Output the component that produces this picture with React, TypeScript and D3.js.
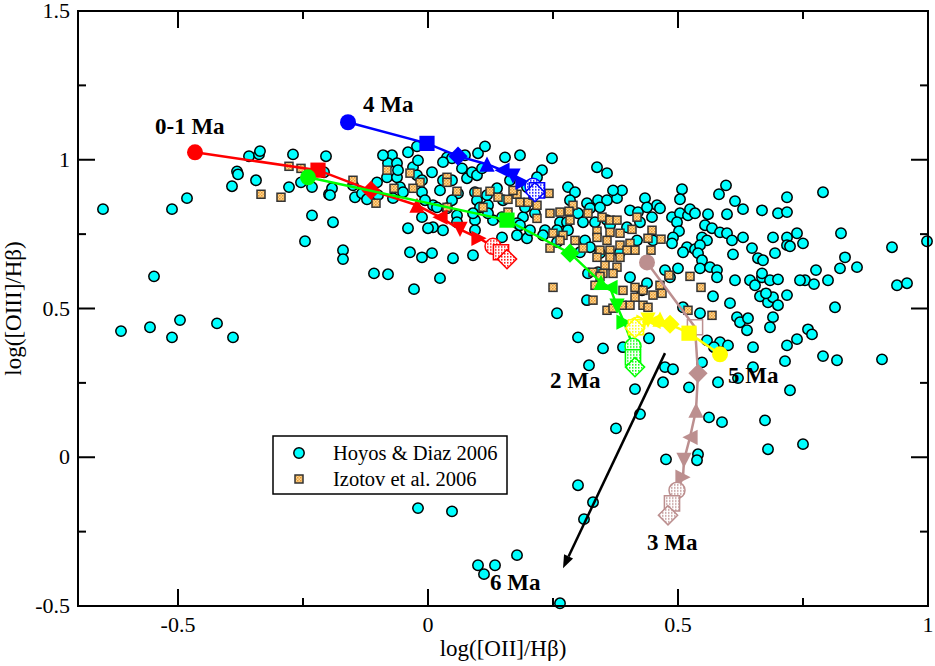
import { scaleLinear } from "d3";

// Hoyos & Diaz 2006 sample: [log([OII]/Hb), log([OIII]/Hb)]
const hoyos: [number, number][] = [
  [-0.650, 0.834], [-0.614, 0.424], [-0.556, 0.437], [-0.512, 0.403], [-0.496, 0.461], [-0.422, 0.450],
  [-0.390, 0.403], [-0.548, 0.608], [-0.512, 0.834], [-0.482, 0.871], [-0.392, 0.911], [-0.382, 0.961],
  [-0.380, 0.951], [-0.344, 0.931], [-0.358, 1.012], [-0.338, 1.018], [-0.336, 1.029], [-0.270, 1.018],
  [-0.278, 0.908], [-0.254, 0.924], [-0.232, 0.908], [-0.232, 0.813], [-0.246, 0.726],
  [-0.204, 1.012], [-0.208, 0.958], [-0.198, 0.884], [-0.190, 0.790], [-0.170, 0.696], [-0.170, 0.666],
  [-0.150, 0.914], [-0.146, 0.874], [-0.132, 0.887], [-0.122, 0.867], [-0.102, 0.924], [-0.072, 1.015],
  [-0.080, 0.988], [-0.062, 0.988], [-0.082, 0.941], [-0.062, 0.941], [-0.070, 0.871], [-0.060, 0.965],
  [-0.192, 0.904], [-0.196, 0.881], [-0.108, 0.618], [-0.080, 0.615], [-0.090, 1.015], [-0.100, 0.881],
  [-0.022, 1.045], [-0.040, 1.025], [-0.030, 0.975], [-0.022, 0.948], [0.008, 0.958], [-0.012, 0.931],
  [-0.056, 0.908], [-0.050, 0.891], [-0.012, 0.891], [0.024, 0.897], [0.030, 0.931], [0.038, 1.008],
  [0.048, 1.005], [0.074, 1.015], [0.100, 1.022], [0.114, 1.045], [0.154, 1.008], [0.184, 1.015],
  [0.068, 0.971], [0.078, 0.938], [0.088, 0.958], [0.098, 0.948], [0.108, 0.971], [0.048, 0.931],
  [0.060, 0.887], [0.094, 0.891], [0.098, 0.864], [0.104, 0.840], [0.058, 0.813], [0.038, 0.837],
  [0.010, 0.847], [-0.006, 0.864], [-0.012, 0.807], [-0.040, 0.770], [0.010, 0.773], [0.030, 0.763],
  [0.058, 0.790], [0.094, 0.797], [0.094, 0.763], [0.130, 0.797], [0.120, 0.847], [0.118, 0.881],
  [0.138, 0.904], [0.150, 0.864], [0.148, 0.739], [0.178, 0.746], [0.198, 0.736], [0.204, 0.763],
  [0.190, 0.807], [0.214, 0.820], [0.194, 0.840], [-0.036, 0.689], [-0.012, 0.672], [0.008, 0.686],
  [0.050, 0.669], [0.090, 0.679], [-0.028, 0.565], [0.024, 0.602], [-0.020, 0.998], [0.030, 0.992],
  [0.164, 0.931], [0.210, 0.897], [0.178, 0.787], [0.148, 0.807], [0.120, 0.820], [0.090, 0.820],
  [0.018, 0.840], [0.048, 0.864], [0.000, 0.770],
  [0.248, 1.005], [0.228, 0.965], [0.218, 0.941], [0.198, 0.908], [0.338, 0.975], [0.358, 0.955],
  [0.280, 0.908], [0.294, 0.891], [0.318, 0.854], [0.340, 0.864], [0.358, 0.864], [0.378, 0.871],
  [0.388, 0.897], [0.434, 0.871], [0.458, 0.847], [0.300, 0.820], [0.324, 0.837], [0.344, 0.840],
  [0.310, 0.790], [0.334, 0.790], [0.358, 0.797], [0.364, 0.780], [0.398, 0.773], [0.424, 0.790],
  [0.404, 0.830], [0.420, 0.824], [0.448, 0.807], [0.264, 0.790], [0.278, 0.790], [0.280, 0.763],
  [0.258, 0.763], [0.234, 0.763], [0.184, 0.780], [0.258, 0.723], [0.314, 0.729], [0.324, 0.706],
  [0.304, 0.689], [0.344, 0.686], [0.384, 0.689], [0.418, 0.729], [0.450, 0.729], [0.404, 0.605],
  [0.428, 0.561], [0.438, 0.585], [0.318, 0.528], [0.320, 0.618], [0.340, 0.622], [0.284, 0.864],
  [0.230, 0.746], [0.370, 0.897], [0.258, 0.484], [0.300, 0.403], [0.350, 0.366], [0.322, 0.309],
  [0.390, 0.370], [0.414, 0.229], [0.424, 0.145], [0.376, 0.097], [0.300, -0.094], [0.330, -0.151],
  [0.312, -0.208], [0.442, 0.400], [0.438, 0.840],
  [0.508, 0.901], [0.504, 0.867], [0.596, 0.914], [0.582, 0.884], [0.614, 0.861], [0.630, 0.834],
  [0.668, 0.830], [0.700, 0.820], [0.718, 0.824], [0.718, 0.874], [0.464, 0.837], [0.488, 0.807],
  [0.504, 0.820], [0.520, 0.813], [0.524, 0.834], [0.534, 0.820], [0.560, 0.817], [0.498, 0.790],
  [0.554, 0.780], [0.568, 0.770], [0.502, 0.760], [0.490, 0.739], [0.488, 0.719], [0.518, 0.706],
  [0.510, 0.689], [0.534, 0.699], [0.548, 0.739], [0.558, 0.729], [0.544, 0.713], [0.584, 0.756],
  [0.598, 0.753], [0.608, 0.729], [0.630, 0.739], [0.648, 0.703], [0.660, 0.669], [0.670, 0.662],
  [0.690, 0.739], [0.694, 0.686], [0.718, 0.739], [0.718, 0.713], [0.540, 0.686], [0.548, 0.662],
  [0.544, 0.635], [0.564, 0.639], [0.578, 0.629], [0.500, 0.635], [0.474, 0.629], [0.484, 0.605],
  [0.578, 0.605], [0.614, 0.595], [0.644, 0.595], [0.654, 0.578], [0.668, 0.605], [0.684, 0.595],
  [0.700, 0.598], [0.664, 0.541], [0.680, 0.521], [0.690, 0.538], [0.700, 0.511], [0.718, 0.545],
  [0.604, 0.518], [0.570, 0.541], [0.544, 0.484], [0.618, 0.471], [0.624, 0.454], [0.638, 0.427],
  [0.690, 0.471], [0.684, 0.437], [0.718, 0.376], [0.650, 0.370], [0.558, 0.393], [0.584, 0.387],
  [0.600, 0.376], [0.510, 0.504], [0.598, 0.817], [0.610, 0.682], [0.668, 0.618], [0.676, 0.551],
  [0.474, 0.303], [0.490, 0.296], [0.470, 0.252], [0.522, 0.235], [0.580, 0.252], [0.620, 0.266],
  [0.650, 0.303], [0.562, 0.134], [0.588, 0.118], [0.674, 0.124], [0.680, 0.027], [0.476, -0.007],
  [0.540, 0.010], [0.538, -0.010], [0.548, 0.319], [0.714, 0.323], [0.572, 0.370], [0.640, 0.467],
  [0.790, 0.891], [0.738, 0.753], [0.724, 0.709], [0.750, 0.719], [0.826, 0.753], [0.928, 0.706],
  [0.998, 0.726], [0.834, 0.672], [0.824, 0.635], [0.858, 0.639], [0.776, 0.629], [0.754, 0.595],
  [0.744, 0.595], [0.772, 0.582], [0.800, 0.595], [0.814, 0.504], [0.938, 0.578], [0.958, 0.585],
  [0.760, 0.430], [0.768, 0.413], [0.738, 0.397], [0.790, 0.340], [0.818, 0.326], [0.908, 0.329],
  [0.724, 0.225], [0.750, 0.044],
  [-0.020, -0.171], [0.048, -0.182], [0.100, -0.363], [0.112, -0.393], [0.134, -0.363],
  [0.178, -0.329], [0.264, -0.491],
];

// Izotov et al. 2006 sample
const izotov: [number, number][] = [
  [-0.334, 0.884], [-0.294, 0.874], [-0.278, 0.978], [-0.254, 0.971], [-0.150, 0.931], [-0.104, 0.854],
  [-0.082, 0.965], [-0.068, 0.904], [-0.036, 0.955], [-0.016, 0.924], [-0.030, 0.904], [0.038, 0.941],
  [0.038, 0.924], [0.058, 0.894], [0.124, 0.894], [0.140, 0.874], [0.160, 0.867], [0.178, 0.884],
  [0.184, 0.857], [0.170, 0.897], [0.110, 0.840], [0.038, 0.840], [0.200, 0.857], [0.210, 0.881],
  [0.218, 0.847], [0.218, 0.803], [0.160, 0.824], [0.098, 0.891], [0.244, 0.820], [0.264, 0.824],
  [0.290, 0.847], [0.320, 0.820], [0.348, 0.807], [0.364, 0.797], [0.284, 0.797], [0.250, 0.571],
  [0.330, 0.528], [0.358, 0.494], [0.242, 0.887], [0.282, 0.827], [0.378, 0.797], [0.418, 0.807],
  [0.448, 0.763], [0.440, 0.736], [0.408, 0.766], [0.384, 0.753], [0.364, 0.756], [0.338, 0.760],
  [0.338, 0.739], [0.358, 0.729], [0.384, 0.713], [0.404, 0.719], [0.414, 0.696], [0.398, 0.696],
  [0.364, 0.696], [0.344, 0.696], [0.338, 0.672], [0.364, 0.672], [0.384, 0.672], [0.354, 0.645],
  [0.378, 0.639], [0.370, 0.618], [0.350, 0.618], [0.330, 0.622], [0.294, 0.729], [0.310, 0.703],
  [0.270, 0.746], [0.250, 0.753], [0.244, 0.703], [0.264, 0.729], [0.414, 0.571], [0.390, 0.561],
  [0.450, 0.545], [0.430, 0.511], [0.404, 0.511], [0.334, 0.578], [0.344, 0.608], [0.466, 0.733],
  [0.446, 0.696], [0.482, 0.612], [0.524, 0.608], [0.546, 0.571], [0.464, 0.578], [0.468, 0.551],
  [0.430, 0.561], [0.440, 0.504], [0.520, 0.494], [0.568, 0.477], [0.370, 0.501], [0.388, 0.511],
  [0.414, 0.538],
];

// model tracks, one point per symbol in trackSymbols
const trackSymbols = ["circle", "square", "diamond", "triUp", "triLeft", "triDown", "triRight", "circle", "square", "diamond"];
const trackHatched = [false, false, false, false, false, false, false, true, true, true];

const redTrack: [number, number][] = [
  [-0.466, 1.025], [-0.220, 0.965], [-0.114, 0.897], [-0.022, 0.847], [0.024, 0.807],
  [0.064, 0.766], [0.102, 0.736], [0.130, 0.709], [0.146, 0.689], [0.158, 0.666],
];
const blueTrack: [number, number][] = [
  [-0.160, 1.126], [-0.002, 1.055], [0.060, 1.012], [0.118, 0.985], [0.148, 0.965],
  [0.170, 0.945], [0.190, 0.924], [0.210, 0.911], [0.218, 0.897], [0.214, 0.891],
];
const greenTrack: [number, number][] = [
  [-0.240, 0.941], [0.158, 0.797], [0.284, 0.686], [0.346, 0.588], [0.364, 0.571],
  [0.378, 0.508], [0.392, 0.454], [0.410, 0.373], [0.410, 0.336], [0.414, 0.303],
];
const brownTrack: [number, number][] = [
  [0.438, 0.655], [0.534, 0.437], [0.540, 0.282], [0.536, 0.158], [0.524, 0.067],
  [0.512, -0.010], [0.510, -0.067], [0.498, -0.111], [0.488, -0.155], [0.480, -0.195],
];
const yellowTrack: [number, number][] = [
  [0.584, 0.346], [0.522, 0.417], [0.484, 0.447], [0.464, 0.464], [0.450, 0.457],
  [0.440, 0.461], [0.432, 0.454], [0.418, 0.444], [0.416, 0.437], [0.414, 0.434],
];

const ageLabels = [
  { text: "0-1 Ma", x: -0.546, y: 1.085 },
  { text: "4 Ma", x: -0.13, y: 1.16 },
  { text: "2 Ma", x: 0.244, y: 0.232 },
  { text: "5 Ma", x: 0.6, y: 0.249 },
  { text: "3 Ma", x: 0.438, y: -0.313 },
  { text: "6 Ma", x: 0.124, y: -0.447 },
];

// arrow towards 6 Ma
const arrowFrom: [number, number] = [0.474, 0.35];
const arrowTo: [number, number] = [0.27, -0.373];

const xMajor = [-0.5, 0, 0.5, 1];
const xMajorLabels = ["-0.5", "0", "0.5", "1"];
const xMinor = [-0.25, 0.25, 0.75];
const yMajor = [-0.5, 0, 0.5, 1, 1.5];
const yMajorLabels = ["-0.5", "0", "0.5", "1", "1.5"];
const yMinor = [-0.25, 0.25, 0.75, 1.25];

const legendItems = ["Hoyos & Diaz 2006", "Izotov et al. 2006"];

const W = 935;
const H = 666;
const L = 78, R = 928, T = 11, B = 606;
const x = scaleLinear().domain([-0.7, 1.0]).range([L, R]);
const y = scaleLinear().domain([-0.5, 1.5]).range([B, T]);

const serif = { fontFamily: "Liberation Serif, Times New Roman, serif" };

const tracks = [
  { id: "red", color: "#ff0000", pts: redTrack },
  { id: "blue", color: "#0000ff", pts: blueTrack },
  { id: "green", color: "#00ff00", pts: greenTrack },
  { id: "brown", color: "#bc8f8f", pts: brownTrack },
  { id: "yellow", color: "#ffff00", pts: yellowTrack },
];

function markerPath(kind: string, s: number) {
  const h = s * 0.95;
  switch (kind) {
    case "circle":
      return `M${s},0A${s},${s} 0 1,1 ${-s},0A${s},${s} 0 1,1 ${s},0Z`;
    case "square":
      return `M${-h},${-h}H${h}V${h}H${-h}Z`;
    case "diamond": {
      const r = s * 1.2;
      return `M0,${-r}L${r},0L0,${r}L${-r},0Z`;
    }
    case "triUp":
      return `M0,${-h}L${h},${h}L${-h},${h}Z`;
    case "triDown":
      return `M0,${h}L${h},${-h}L${-h},${-h}Z`;
    case "triLeft":
      return `M${-h},0L${h},${-h}L${h},${h}Z`;
    default:
      return `M${h},0L${-h},${-h}L${-h},${h}Z`;
  }
}

export default function App() {
  const lineD = (pts: [number, number][]) =>
    pts.map((p, i) => `${i ? "L" : "M"}${x(p[0])},${y(p[1])}`).join("");

  const ax1 = x(arrowFrom[0]), ay1 = y(arrowFrom[1]);
  const ax2 = x(arrowTo[0]), ay2 = y(arrowTo[1]);
  const ang = Math.atan2(ay2 - ay1, ax2 - ax1);
  const hl = 13, hw = 5;
  const bx = ax2 - hl * Math.cos(ang), by = ay2 - hl * Math.sin(ang);
  const head = `M${ax2},${ay2}L${bx + hw * Math.sin(ang)},${by - hw * Math.cos(ang)}L${bx - hw * Math.sin(ang)},${by + hw * Math.cos(ang)}Z`;

  return (
    <svg width={W} height={H} style={{ position: "absolute", left: 0, top: 0, background: "#fff" }}>
      <defs>
        <pattern id="pat-orange" width={3} height={3} patternUnits="userSpaceOnUse">
          <rect width={3} height={3} fill="#fcd894" />
          <rect width={1.5} height={1.5} fill="#e9962f" />
          <rect x={1.5} y={1.5} width={1.5} height={1.5} fill="#f0a848" />
        </pattern>
        {tracks.map((t) => (
          <pattern key={t.id} id={`hatch-${t.id}`} width={3} height={3} patternUnits="userSpaceOnUse">
            <rect width={3} height={3} fill="#fff" />
            <rect width={1.5} height={1.5} fill={t.color} />
          </pattern>
        ))}
      </defs>
      <rect width={W} height={H} fill="#fff" />

      {hoyos.map((p, i) => (
        <circle key={`h${i}`} cx={x(p[0])} cy={y(p[1])} r={5.2} fill="#00ffff" stroke="#000" strokeWidth={1.5} />
      ))}
      {izotov.map((p, i) => (
        <rect key={`z${i}`} x={x(p[0]) - 4} y={y(p[1]) - 4} width={8} height={8}
          fill="url(#pat-orange)" stroke="#333" strokeWidth={1.5} />
      ))}

      {tracks.map((t) => (
        <g key={t.id}>
          <path d={lineD(t.pts)} fill="none" stroke={t.color} strokeWidth={2.5} />
          {t.pts.map((p, i) => {
            const hatched = trackHatched[i];
            const hollow = t.id === "brown" && i === 1;
            return (
              <path key={i} transform={`translate(${x(p[0])},${y(p[1])})`}
                d={markerPath(trackSymbols[i], 8)}
                fill={hollow ? "none" : hatched ? `url(#hatch-${t.id})` : t.color}
                stroke={t.color} strokeWidth={hatched || hollow ? 1.5 : 0} />
            );
          })}
        </g>
      ))}

      <line x1={ax1} y1={ay1} x2={bx} y2={by} stroke="#000" strokeWidth={2.5} />
      <path d={head} fill="#000" />

      {ageLabels.map((l) => (
        <text key={l.text} x={x(l.x)} y={y(l.y)} fontSize={23} fontWeight="bold" fill="#000" style={serif}>{l.text}</text>
      ))}

      {/* legend */}
      <rect x={273} y={436} width={234} height={58} fill="#fff" stroke="#000" strokeWidth={1.5} />
      <circle cx={299} cy={453} r={5.2} fill="#00ffff" stroke="#000" strokeWidth={1.5} />
      <rect x={295} y={475} width={8} height={8} fill="url(#pat-orange)" stroke="#333" strokeWidth={1.5} />
      {legendItems.map((s, i) => (
        <text key={s} x={333} y={460 + i * 26} fontSize={20.5} style={serif}>{s}</text>
      ))}

      {/* frame and ticks */}
      <rect x={L} y={T} width={R - L} height={B - T} fill="none" stroke="#000" strokeWidth={2} />
      {xMajor.map((v) => (
        <g key={`xm${v}`}>
          <line x1={x(v)} x2={x(v)} y1={B} y2={B - 17} stroke="#000" strokeWidth={2} />
          <line x1={x(v)} x2={x(v)} y1={T} y2={T + 17} stroke="#000" strokeWidth={2} />
        </g>
      ))}
      {xMinor.map((v) => (
        <g key={`xn${v}`}>
          <line x1={x(v)} x2={x(v)} y1={B} y2={B - 8} stroke="#000" strokeWidth={2} />
          <line x1={x(v)} x2={x(v)} y1={T} y2={T + 8} stroke="#000" strokeWidth={2} />
        </g>
      ))}
      {yMajor.map((v) => (
        <g key={`ym${v}`}>
          <line x1={L} x2={L + 17} y1={y(v)} y2={y(v)} stroke="#000" strokeWidth={2} />
          <line x1={R} x2={R - 17} y1={y(v)} y2={y(v)} stroke="#000" strokeWidth={2} />
        </g>
      ))}
      {yMinor.map((v) => (
        <g key={`yn${v}`}>
          <line x1={L} x2={L + 8} y1={y(v)} y2={y(v)} stroke="#000" strokeWidth={2} />
          <line x1={R} x2={R - 8} y1={y(v)} y2={y(v)} stroke="#000" strokeWidth={2} />
        </g>
      ))}
      {xMajor.map((v, i) => (
        <text key={`xl${v}`} x={x(v)} y={632} fontSize={22} textAnchor="middle" style={serif}>{xMajorLabels[i]}</text>
      ))}
      {yMajor.map((v, i) => (
        <text key={`yl${v}`} x={70} y={y(v) + 7} fontSize={22} textAnchor="end" style={serif}>{yMajorLabels[i]}</text>
      ))}
      <text x={(L + R) / 2} y={656} fontSize={23} textAnchor="middle" style={serif}>log([OII]/Hβ)</text>
      <text transform={`translate(21,${(T + B) / 2}) rotate(-90)`} fontSize={23} textAnchor="middle" style={serif}>log([OIII]/Hβ)</text>
    </svg>
  );
}
